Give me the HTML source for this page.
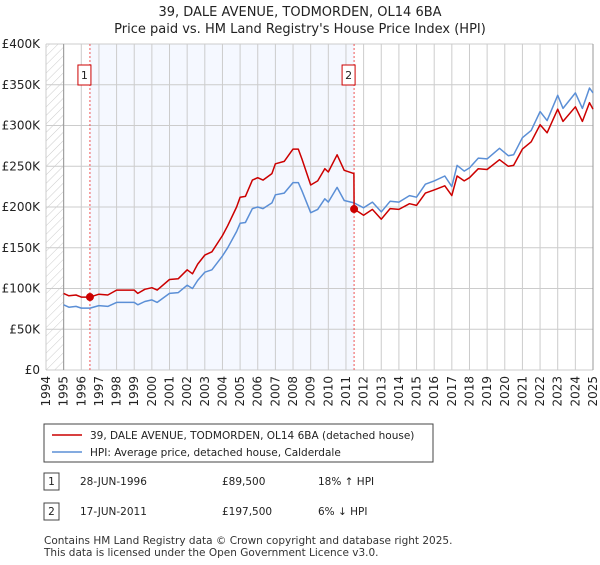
<!DOCTYPE html>
<html><head><meta charset="utf-8"><style>
body{margin:0;background:#fff;font-family:"Liberation Sans","DejaVu Sans",sans-serif;}
svg text{font-family:"DejaVu Sans","Liberation Sans",sans-serif;}
</style></head><body>
<svg id="c" width="600" height="560" viewBox="0 0 600 560" xmlns="http://www.w3.org/2000/svg">
<defs><pattern id="hatch" width="6" height="6" patternUnits="userSpaceOnUse" patternTransform="rotate(45)"><line x1="0" y1="0" x2="0" y2="6" stroke="#ccc" stroke-width="1"/></pattern></defs>
<text x="300" y="16" text-anchor="middle" font-size="13" fill="#222">39, DALE AVENUE, TODMORDEN, OL14 6BA</text>
<text x="300" y="33" text-anchor="middle" font-size="13" fill="#222">Price paid vs. HM Land Registry's House Price Index (HPI)</text>
<g id="plot"></g>
<g>
<rect x="44" y="424" width="389" height="38" fill="#fff" stroke="#444"/>
<line x1="52" y1="435" x2="82" y2="435" stroke="#cc0000" stroke-width="1.5"/>
<text x="90" y="439" font-size="10.5" fill="#222">39, DALE AVENUE, TODMORDEN, OL14 6BA (detached house)</text>
<line x1="52" y1="452" x2="82" y2="452" stroke="#5b8fd6" stroke-width="1.5"/>
<text x="90" y="456" font-size="10.5" fill="#222">HPI: Average price, detached house, Calderdale</text>
</g>
<g font-size="10.5" fill="#222">
<rect x="44" y="473" width="15" height="17" fill="#fff" stroke="#444"/><text x="51.5" y="485" text-anchor="middle">1</text>
<text x="80" y="485">28-JUN-1996</text><text x="222" y="485">£89,500</text><text x="318" y="485">18% ↑ HPI</text>
<rect x="44" y="503" width="15" height="17" fill="#fff" stroke="#444"/><text x="51.5" y="515" text-anchor="middle">2</text>
<text x="80" y="515">17-JUN-2011</text><text x="222" y="515">£197,500</text><text x="318" y="515">6% ↓ HPI</text>
</g>
<text x="44" y="544" font-size="10.5" fill="#333">Contains HM Land Registry data © Crown copyright and database right 2025.</text>
<text x="44" y="556" font-size="10.5" fill="#333">This data is licensed under the Open Government Licence v3.0.</text>
</svg>
<script>
const hpiYears=[1995.0,1995.3,1995.7,1996.0,1996.5,1997.0,1997.5,1998.0,1998.6,1999.0,1999.2,1999.6,2000.0,2000.3,2001.0,2001.5,2002.0,2002.3,2002.6,2003.0,2003.4,2004.0,2004.3,2004.8,2005.0,2005.3,2005.7,2006.0,2006.3,2006.8,2007.0,2007.5,2008.0,2008.3,2008.5,2009.0,2009.4,2009.8,2010.0,2010.5,2010.9,2011.46,2012.0,2012.5,2013.0,2013.5,2014.0,2014.6,2015.0,2015.5,2016.0,2016.6,2017.0,2017.3,2017.7,2018.0,2018.5,2019.0,2019.7,2020.2,2020.5,2021.0,2021.5,2022.0,2022.4,2023.0,2023.3,2024.0,2024.4,2024.8,2025.0];
const hpiValues=[80,77,78,76,76,79,78,83,83,83,80,84,86,83,94,95,104,100,110,120,123,140,150,170,180,181,198,200,198,205,215,217,230,230,220,193,197,210,206,224,208,205,199,206,194,207,206,214,212,228,232,238,225,251,244,248,260,259,272,263,264,285,294,317,306,337,321,340,321,346,340];
const priceYears=[1995.0,1995.3,1995.7,1996.0,1996.5,1997.0,1997.5,1998.0,1998.6,1999.0,1999.2,1999.6,2000.0,2000.3,2001.0,2001.5,2002.0,2002.3,2002.6,2003.0,2003.4,2004.0,2004.3,2004.8,2005.0,2005.3,2005.7,2006.0,2006.3,2006.8,2007.0,2007.5,2008.0,2008.3,2008.5,2009.0,2009.4,2009.8,2010.0,2010.5,2010.9,2011.45,2011.46,2012.0,2012.5,2013.0,2013.5,2014.0,2014.6,2015.0,2015.5,2016.0,2016.6,2017.0,2017.3,2017.7,2018.0,2018.5,2019.0,2019.7,2020.2,2020.5,2021.0,2021.5,2022.0,2022.4,2023.0,2023.3,2024.0,2024.4,2024.8,2025.0];
const priceValues=[94,91,92,89.5,89.5,93,92,98,98,98,94,99,101,98,111,112,123,118,130,141,145,165,177,200,212,213,233,236,233,241,253,256,271,271,259,227,232,247,243,264,245,241,197.5,190,197,185,198,197,204,202,217,221,226,214,238,232,236,247,246,258,250,251,271,280,301,291,320,305,323,305,328,320];
const saleYears=[1996.49,2011.46];
const saleValues=[89.5,197.5];
const saleLabels=["1","2"];
const yTicks=[0,50,100,150,200,250,300,350,400];
const yTickLabels=["£0","£50K","£100K","£150K","£200K","£250K","£300K","£350K","£400K"];
const xTicks=[];for(let y=1994;y<=2025;y++)xTicks.push(y);

const X0=46,X1=593,Y0=370,Y1=44;
const xs=y=>X0+(y-1994)/(2025-1994)*(X1-X0);
const ys=v=>Y0-v/400*(Y0-Y1);
const NS="http://www.w3.org/2000/svg";
const g=document.getElementById('plot');
function mk(t,a,p){const e=document.createElementNS(NS,t);for(const k in a)e.setAttribute(k,a[k]);(p||g).appendChild(e);return e;}

let e=mk('rect',{x:xs(saleYears[0]),y:Y1,width:xs(saleYears[1])-xs(saleYears[0]),height:Y0-Y1,fill:'#f5f8ff'});


e=mk('rect',{x:X0,y:Y1,width:xs(1995)-X0,height:Y0-Y1,fill:'url(#hatch)'});


xTicks.forEach((t,i)=>{
  const l=mk('line',{x1:xs(t),x2:xs(t),y1:Y1,y2:Y0,stroke:'#ccc','stroke-width':1});
  
  
  const tx=mk('text',{x:0,y:0,'font-size':12,fill:'#222','text-anchor':'end',transform:`translate(${xs(t)+4},${Y0+6}) rotate(-90)`});
  tx.textContent=t;
  
  
});
yTicks.forEach((t,i)=>{
  const l=mk('line',{x1:X0,x2:X1,y1:ys(t),y2:ys(t),stroke:'#ccc','stroke-width':1});
  
  
  const tx=mk('text',{x:40,y:ys(t)+4,'font-size':12,fill:'#222','text-anchor':'end'});
  tx.textContent=yTickLabels[i];
  
  
});
e=mk('line',{x1:xs(1995),x2:xs(1995),y1:Y1,y2:Y0,stroke:'#999'});


e=mk('line',{x1:X1,x2:X1,y1:Y1,y2:Y0,stroke:'#999'});


saleYears.forEach((s,i)=>{
  const l=mk('line',{x1:xs(s),x2:xs(s),y1:Y1,y2:Y0,stroke:'#e55','stroke-width':1,'stroke-dasharray':'2,2'});
  
  
  const r=mk('rect',{x:xs(s)-12,y:65,width:13,height:20,fill:'#fff',stroke:'#cc0000'});
  
  
  const t=mk('text',{x:xs(s)-5.5,y:79,'font-size':11,fill:'#222','text-anchor':'middle'});
  t.textContent=saleLabels[i];
  
  
});
function line(xa,va,col,name){
  const d=xa.map((x,i)=>(i?'L':'M')+xs(x).toFixed(1)+','+ys(va[i]).toFixed(1)).join('');
  const p=mk('path',{d:d,fill:'none',stroke:col,'stroke-width':1.5,'stroke-linejoin':'round'});
  
  
}
line(hpiYears,hpiValues,'#5b8fd6','hpi-line');
line(priceYears,priceValues,'#cc0000','price-line');
saleYears.forEach((s,i)=>{
  const c=mk('circle',{cx:xs(s),cy:ys(saleValues[i]),r:4,fill:'#cc0000'});
  
  
});
</script>
</body></html>
